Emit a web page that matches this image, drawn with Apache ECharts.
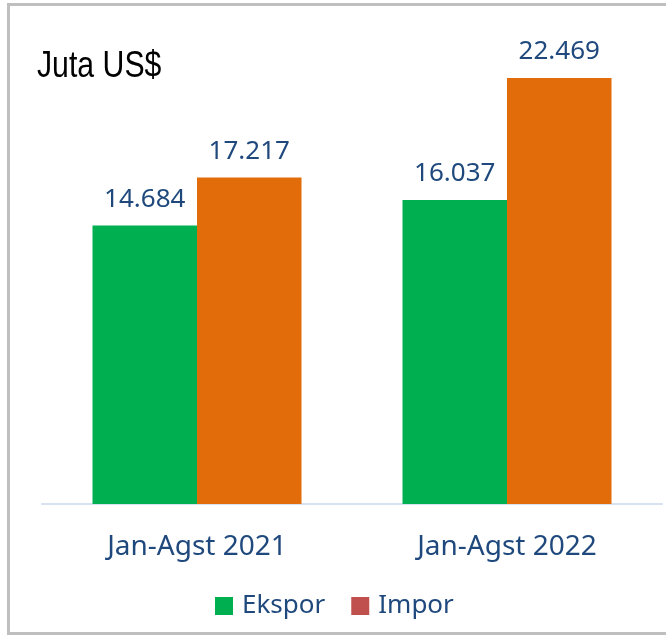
<!DOCTYPE html>
<html>
<head>
<meta charset="utf-8">
<script src="https://cdn.jsdelivr.net/npm/echarts@6/dist/echarts.min.js"></script>
<style type="text/css">
html,body{margin:0;padding:0;background:#fff;}
#chart_main{width:666px;height:635px;}
</style>
</head>
<body>
<div id="chart_main"></div>
<script type="text/javascript">
// data (Juta US$)
var categories = ['Jan-Agst 2021', 'Jan-Agst 2022'];
var ekspor = [14684, 16037];
var impor = [17217, 22469];
var series_names = ['Ekspor', 'Impor'];

function fmt(v){
	// 14684 -> 14.684
	return String(v).replace(/\B(?=(\d{3})+(?!\d))/g, '.');
}

var myChart = echarts.init(document.getElementById('chart_main'));
var label_style = {
	show: true,
	position: 'top',
	distance: 13,
	color: '#1F497D',
	fontFamily: 'Noto Sans',
	fontSize: 26,
	formatter: function(p){ return fmt(p.value); }
};
var option = {
	animation: false,
	graphic: [{
		type: 'rect',
		shape: {x: 8.5, y: 4.5, width: 700, height: 629},
		style: {fill: 'none', stroke: '#BFBFBF', lineWidth: 3},
		silent: true
	}, {
		// narrow title, like Arial Narrow
		type: 'text',
		x: 37,
		y: 49,
		scaleX: 0.84,
		style: {text: 'Juta US$', font: '36px "Liberation Sans", Arial, sans-serif', fill: '#000', verticalAlign: 'top'},
		silent: true
	}],
	legend: {
		data: [
			{name: series_names[0], itemStyle: {color: '#00B050'}},
			{name: series_names[1], itemStyle: {color: '#C0504D'}}
		],
		left: 215,
		top: 593,
		padding: 0,
		icon: 'rect',
		itemWidth: 18,
		itemHeight: 18,
		itemGap: 26,
		textStyle: {fontFamily: 'Noto Sans', fontSize: 26, color: '#1F497D', padding: [0, 0, 0, 4]}
	},
	grid: {left: 42, right: 4, top: 30, height: 474},
	xAxis: {
		type: 'category',
		data: categories,
		axisLine: {lineStyle: {color: '#D6E2F2', width: 2}},
		axisTick: {show: false},
		axisLabel: {margin: 29, fontFamily: 'Noto Sans', fontSize: 28, color: '#1F497D'}
	},
	yAxis: {
		type: 'value',
		min: 0,
		max: 25000,
		show: false
	},
	series: [
		{name: series_names[0], type: 'bar', data: ekspor, barWidth: 104.5, barGap: '0%', itemStyle: {color: '#00B050'}, label: label_style},
		{name: series_names[1], type: 'bar', data: impor, barWidth: 104.5, barGap: '0%', itemStyle: {color: '#E36C0A'}, label: label_style}
	]
};
myChart.setOption(option);
</script>
</body>
</html>
